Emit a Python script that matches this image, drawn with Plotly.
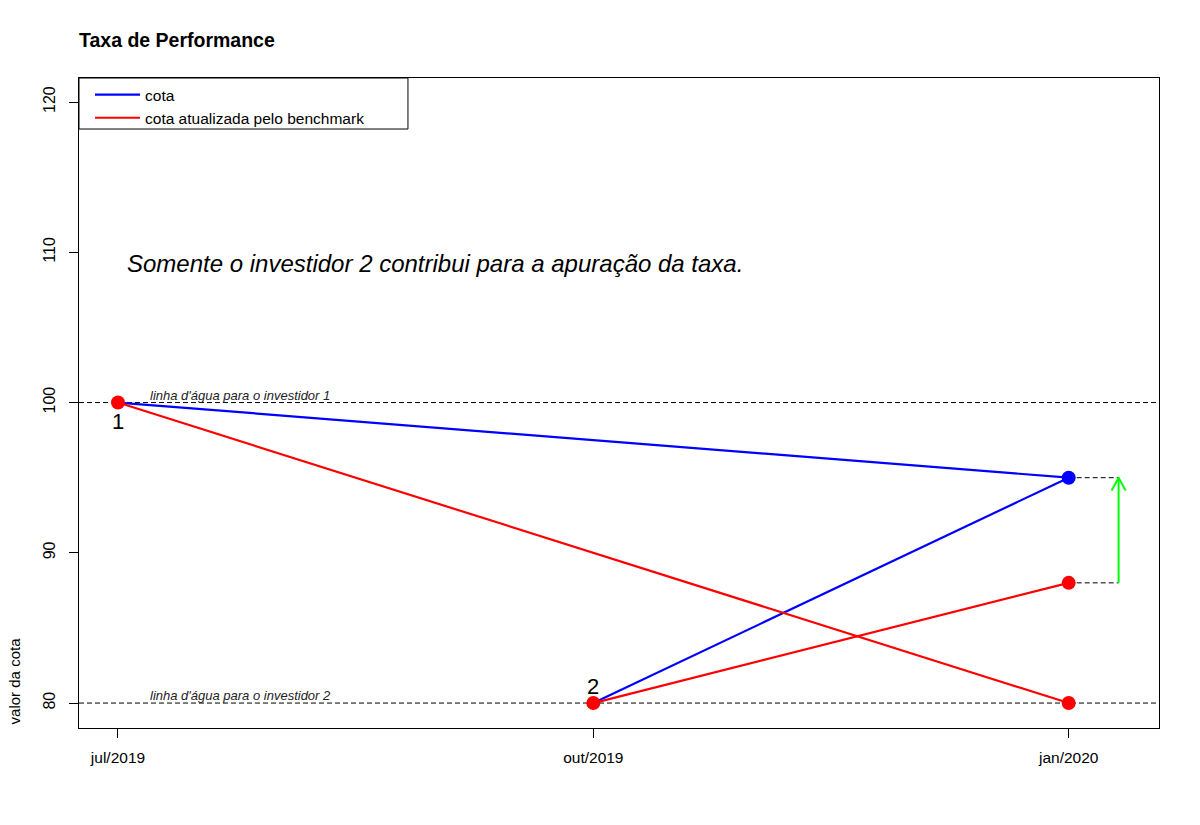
import plotly.graph_objects as go

# dados
meses = ["jul/2019", "out/2019", "jan/2020"]
posicoes = list(range(len(meses)))

# investidor 1 entra em jul/2019, investidor 2 em out/2019
meses_inv1 = ["jul/2019", "jan/2020"]
cota_inv1 = [100, 95]
bench_inv1 = [100, 80]

meses_inv2 = ["out/2019", "jan/2020"]
cota_inv2 = [80, 95]
bench_inv2 = [80, 88]

linhas_agua = [100, 80]
textos_agua = ["linha d'água para o investidor 1", "linha d'água para o investidor 2"]
seta_x = 2.105

FONT = "Liberation Sans, Arial, sans-serif"
AZUL = "#0000FF"
VERMELHO = "#FF0000"
VERDE = "#00FF00"


def px(m):
    return [meses.index(v) for v in m]


fig = go.Figure()

# linhas
fig.add_trace(go.Scatter(x=px(meses_inv1), y=cota_inv1, mode="lines",
                         line=dict(color=AZUL, width=2.2), name="cota",
                         legendgroup="cota"))
fig.add_trace(go.Scatter(x=px(meses_inv2), y=cota_inv2, mode="lines",
                         line=dict(color=AZUL, width=2.2), showlegend=False,
                         legendgroup="cota"))
fig.add_trace(go.Scatter(x=px(meses_inv1), y=bench_inv1, mode="lines",
                         line=dict(color=VERMELHO, width=2.2),
                         name="cota atualizada pelo benchmark", legendgroup="bench"))
fig.add_trace(go.Scatter(x=px(meses_inv2), y=bench_inv2, mode="lines",
                         line=dict(color=VERMELHO, width=2.2), showlegend=False,
                         legendgroup="bench"))

# tracejado do ponto final ate a seta
ult = meses.index("jan/2020")
for y in [cota_inv2[-1], bench_inv2[-1]]:
    fig.add_trace(go.Scatter(x=[ult, seta_x], y=[y, y], mode="lines",
                             line=dict(color="black", width=1, dash="5px,3px"),
                             showlegend=False, hoverinfo="skip"))

# seta verde (ponta aberta)
y0, y1 = bench_inv2[-1], cota_inv2[-1]
hx, hy = 0.0147, 0.86
fig.add_trace(go.Scatter(x=[seta_x, seta_x, None, seta_x - hx, seta_x, seta_x + hx],
                         y=[y0, y1, None, y1 - hy, y1, y1 - hy], mode="lines",
                         line=dict(color=VERDE, width=2), showlegend=False,
                         hoverinfo="skip"))

# pontos
fig.add_trace(go.Scatter(x=px(meses_inv1[:1] + meses_inv2[:1]),
                         y=[bench_inv1[0], bench_inv2[0]], mode="markers",
                         marker=dict(color=VERMELHO, size=14), showlegend=False))
fig.add_trace(go.Scatter(x=px(meses_inv2[-1:]), y=cota_inv2[-1:], mode="markers",
                         marker=dict(color=AZUL, size=14), showlegend=False))
fig.add_trace(go.Scatter(x=px(meses_inv2[-1:] * 2), y=[bench_inv2[-1], bench_inv1[-1]],
                         mode="markers", marker=dict(color=VERMELHO, size=14),
                         showlegend=False))

# linhas d'agua
for y, txt in zip(linhas_agua, textos_agua):
    fig.add_shape(type="line", xref="paper", x0=0, x1=1, y0=y, y1=y,
                  line=dict(color="black", width=1, dash="5px,3px"), layer="below")
    fig.add_annotation(x=0.063, y=y, text=txt, showarrow=False, xanchor="left",
                       yanchor="bottom", yshift=-2,
                       font=dict(family=FONT, size=13, color="#222", style="italic"))

fig.add_annotation(x=0, y=bench_inv1[0], text="1", showarrow=False, yshift=-19,
                   font=dict(family=FONT, size=22, color="black"))
fig.add_annotation(x=1, y=bench_inv2[0], text="2", showarrow=False, yshift=17,
                   font=dict(family=FONT, size=22, color="black"))

fig.add_annotation(x=0.015, y=109.25, text="Somente o investidor 2 contribui para a apuração da taxa.",
                   showarrow=False, xanchor="left",
                   font=dict(family=FONT, size=24, color="black", style="italic"))

# titulo do eixo y
fig.add_annotation(xref="paper", yref="paper", x=-0.06, y=0.072,
                   xanchor="center", yanchor="middle",
                   text="valor da cota", showarrow=False, textangle=-90,
                   font=dict(family=FONT, size=15, color="black"))

# caixa da legenda
fig.add_shape(type="rect", xref="paper", yref="paper", x0=0, x1=0.3046,
              y0=0.9215, y1=1, line=dict(color="black", width=1))

fig.update_layout(
    width=1200, height=825,
    margin=dict(l=71, r=49, t=70, b=105),
    paper_bgcolor="white", plot_bgcolor="white",
    font=dict(family=FONT, size=16, color="black"),
    title=dict(text="<b>Taxa de Performance</b>", x=71 / 1200, xanchor="left",
               y=1 - 32 / 825, yanchor="middle", font=dict(size=19.5)),
    legend=dict(x=0.0102, y=1.0, xanchor="left", yanchor="top",
                bgcolor="rgba(0,0,0,0)", font=dict(size=15.5),
                tracegroupgap=0, itemwidth=45),
    showlegend=True,
)
fig.update_xaxes(range=[-0.082, 2.19], tickvals=posicoes, ticktext=meses,
                 showgrid=False, zeroline=False, showline=True, mirror=True,
                 linecolor="black", linewidth=1, ticks="outside", ticklen=9,
                 tickcolor="black", ticklabelstandoff=6, tickfont=dict(size=15.5))
fig.update_yaxes(range=[78.34, 121.6], tickvals=[80, 90, 100, 110, 120],
                 showgrid=False, zeroline=False, showline=True, mirror=True,
                 linecolor="black", linewidth=1, ticks="outside", ticklen=9,
                 tickcolor="black", tickangle=-90, ticklabelstandoff=8)

fig.write_html("out.html")
